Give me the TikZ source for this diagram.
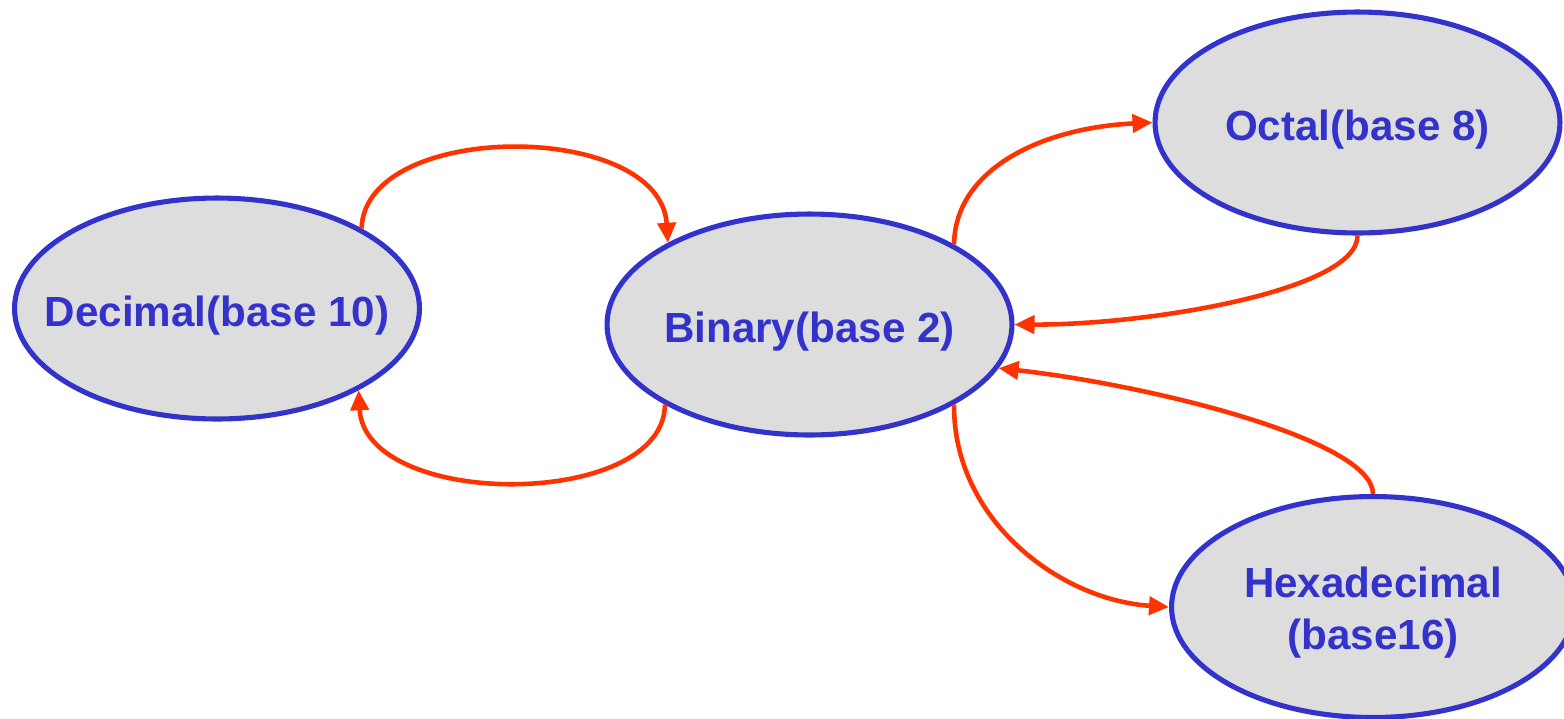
\documentclass[tikz,border=0pt]{standalone}
\usepackage{fontspec}
\setmainfont{Liberation Sans}
\usetikzlibrary{shapes.geometric,arrows.meta}
\definecolor{nodeblue}{HTML}{3333CC}
\definecolor{nodefill}{HTML}{DDDDDD}
\definecolor{arrred}{HTML}{FF3300}
\newcommand{\lbl}[2][-10.2pt]{\makebox[0pt][c]{\smash{\raisebox{#1}{#2}}}}
\tikzset{
  base/.style={ellipse, draw=nodeblue, fill=nodefill, line width=2.9pt, inner sep=0pt,
    minimum width=8.1cm, minimum height=4.42cm, text=nodeblue,
    font=\fontsize{24}{29.6}\selectfont\bfseries},
  conv/.style={draw=arrred, line width=2.6pt, -{Triangle[length=0.4cm,width=0.36cm]}}
}
\begin{document}
\begin{tikzpicture}[x=0.02cm,y=-0.02cm]
\clip (0,0) rectangle (1564,718);
\fill[white] (0,0) rectangle (1564,718);
\node[base] (dec) at (217,308.5) {\lbl{Decimal(base 10)}};
\node[base] (bin) at (809.5,324.5) {\lbl{Binary(base 2)}};
\node[base] (oct) at (1357.5,122.5) {\lbl{Octal(base 8)}};
\node[base, minimum width=8.06cm] (hex) at (1373,607)
  {\lbl[5.2pt]{\begin{tabular}[t]{@{}c@{}}Hexadecimal\\(base16)\end{tabular}}};
\draw[conv] (dec.29) .. controls (365,120) and (660,120) .. (bin.150);
\draw[conv] (bin.209) .. controls (664,510) and (365,510) .. (dec.330);
\draw[conv] (bin.29) .. controls (955,170) and (1040,128) .. (oct.west);
\draw[conv] (oct.south) .. controls (1358,290) and (1150,325) .. (bin.east);
\draw[conv] (hex.north) .. controls (1373,440) and (1150,385) .. (bin.-13);
\draw[conv] (bin.331) .. controls (953,520) and (1060,600) .. (hex.west);
\end{tikzpicture}
\end{document}
